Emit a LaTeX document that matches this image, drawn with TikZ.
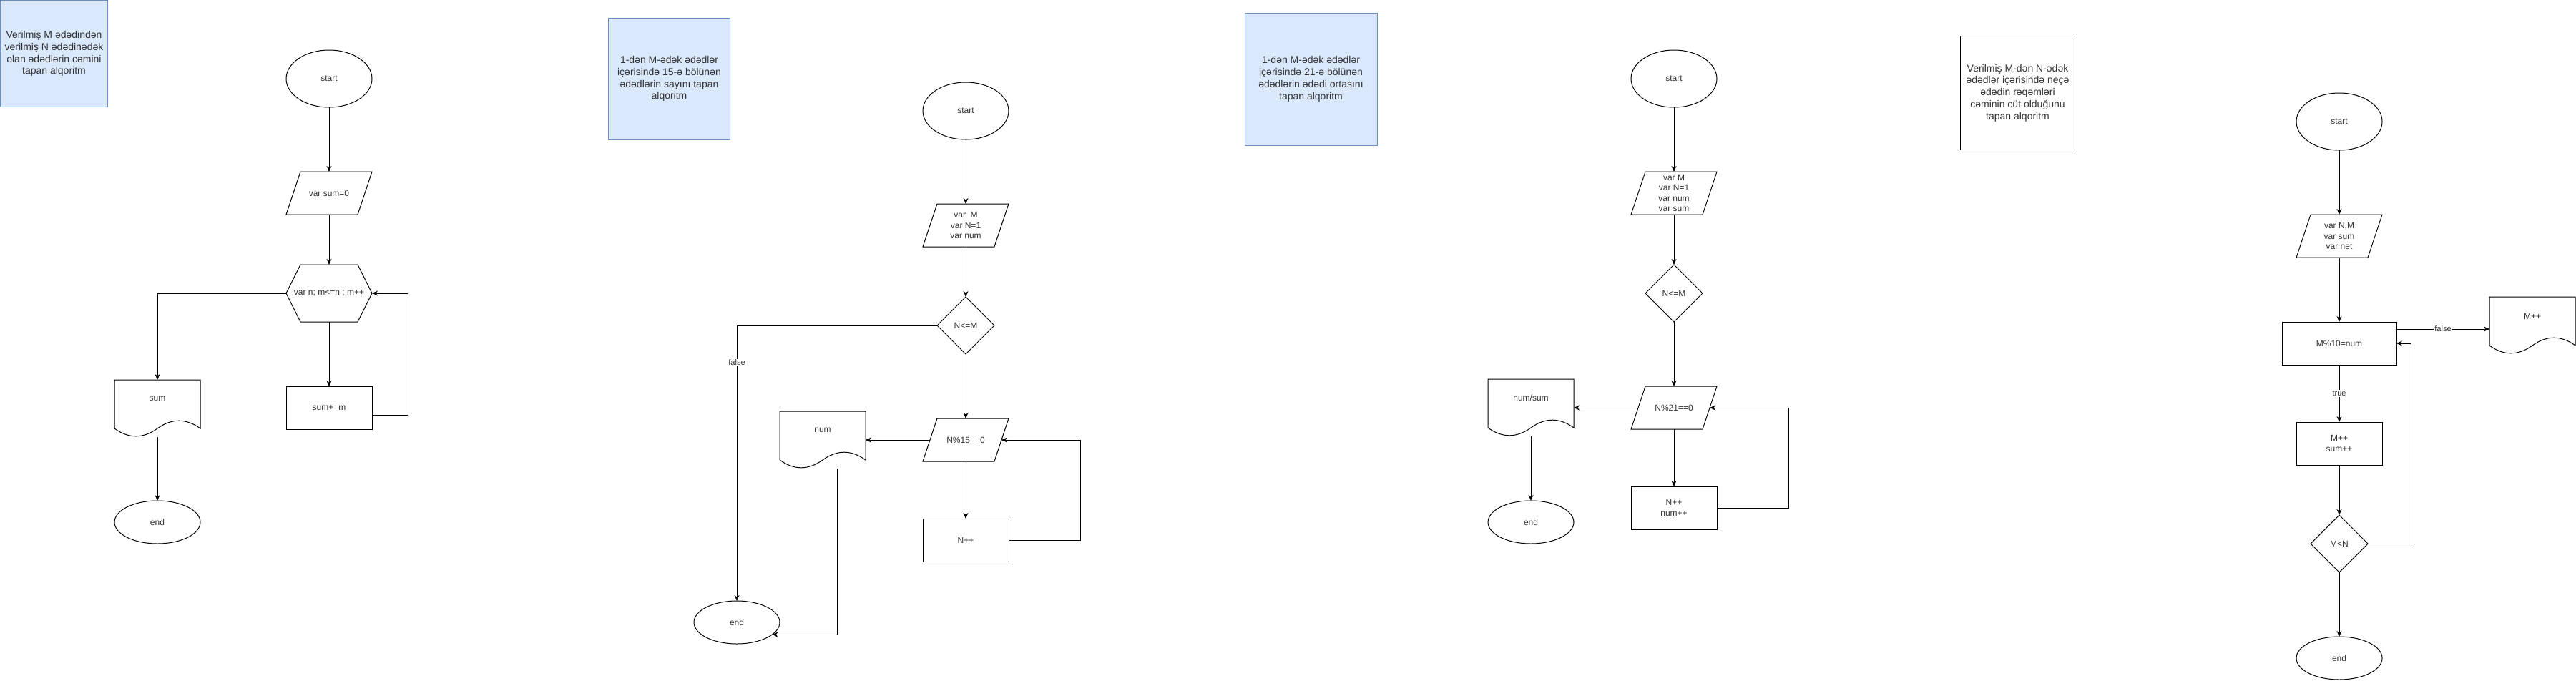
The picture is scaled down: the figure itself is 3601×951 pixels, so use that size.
\documentclass[tikz,border=0pt]{standalone}
\usepackage{fontspec}
\setmainfont{Liberation Sans}
\usetikzlibrary{shapes.geometric,arrows.meta,calc}
\definecolor{txt}{HTML}{333333}
\definecolor{descf}{HTML}{DAE8FC}
\definecolor{descb}{HTML}{6C8EBF}
\tikzset{
  base/.style={font=\fontsize{12}{14.4}\selectfont, text=txt, align=center, inner sep=0pt, outer sep=0pt},
  shapeline/.style={draw=black, line width=1pt, line join=miter},
  term/.style={base, ellipse, shapeline, minimum width=120pt, minimum height=80pt},
  endterm/.style={term, minimum height=60pt},
  box/.style={base, rectangle, shapeline, minimum width=120pt, minimum height=60pt},
  para/.style={base, rectangle, minimum width=120pt, minimum height=60pt},
  hexn/.style={base, rectangle, minimum width=120pt, minimum height=80pt},
  docn/.style={base, rectangle, minimum width=120pt, minimum height=80pt},
  dec/.style={base, diamond, shapeline, minimum width=80pt, minimum height=80pt, aspect=1},
  desc/.style={base, rectangle, font=\fontsize{14}{16.8}\selectfont, line width=1pt},
  conn/.style={line width=1pt, -{Stealth[length=8pt,width=7pt,inset=2.5pt]}},
  lbl/.style={font=\fontsize{11}{13}\selectfont, text=txt, fill=white, inner sep=1pt}
}
\newcommand\paraoutline[1]{\draw[shapeline] ([xshift=20pt]#1.north west) -- (#1.north east) -- ([xshift=-20pt]#1.south east) -- (#1.south west) -- cycle;}
\newcommand\hexoutline[1]{\draw[shapeline] ([xshift=20pt]#1.north west) -- ([xshift=-20pt]#1.north east) -- (#1.east) -- ([xshift=-20pt]#1.south east) -- ([xshift=20pt]#1.south west) -- (#1.west) -- cycle;}
\newcommand\docoutline[1]{\draw[shapeline] (#1.north west) -- (#1.north east) -- ($(#1.north west)+(120,68)$) .. controls ($(#1.north west)+(100,53.6)$) and ($(#1.north west)+(80,53.6)$) .. ($(#1.north west)+(60,68)$) .. controls ($(#1.north west)+(40,82.4)$) and ($(#1.north west)+(20,82.4)$) .. ($(#1.north west)+(0,68)$) -- cycle;}
\begin{document}
\begin{tikzpicture}[x=1pt,y=-1pt]
\useasboundingbox[fill=white] (0,0) rectangle (3601,951);

% ---------- Diagram 1 ----------
\node[desc, draw=descb, fill=descf, minimum width=150pt, minimum height=149pt] (t1) at (75.5,75) {Verilmiş M ədədindən\\verilmiş N ədədinədək\\olan ədədlərin cəmini\\tapan alqoritm};
\node[term] (s1) at (460,110) {start};
\node[para] (v1) at (460,270) {var sum=0}; \paraoutline{v1}
\node[hexn] (h1) at (460,410) {var n; m<=n ; m++}; \hexoutline{h1}
\node[box] (b1) at (460,570) {sum+=m};
\node[docn] (d1) at (220,571) {}; \docoutline{d1}
\node[base] (d1t) at ($(d1.north)+(0,26)$) {sum};
\node[endterm] (e1) at (220,730) {end};
\draw[conn] (s1.south) -- (v1.north);
\draw[conn] (v1.south) -- (h1.north);
\draw[conn] (h1.south) -- (b1.north);
\draw[conn] (h1.west) -| (d1.north);
\draw[conn] (d1.south) -- (e1.north);
\draw[conn] ([yshift=-10pt]b1.east) -- ++(50,0) |- (h1.east);

% ---------- Diagram 2 ----------
\node[desc, draw=descb, fill=descf, minimum width=170pt, minimum height=170pt] (t2) at (935.5,110) {1-dən M-ədək ədədlər\\içərisində 15-ə bölünən\\ədədlərin sayını tapan\\alqoritm};
\node[term] (s2) at (1350,155) {start};
\node[para] (v2) at (1350,315) {var\ \ M\\var N=1\\var num}; \paraoutline{v2}
\node[dec] (c2) at (1350,455) {N<=M};
\node[para] (p2) at (1350,615) {N\%15==0}; \paraoutline{p2}
\node[docn] (d2) at (1150,615) {}; \docoutline{d2}
\node[base] (d2t) at ($(d2.north)+(0,26)$) {num};
\node[box] (b2) at (1350,755) {N++};
\node[endterm] (e2) at (1030,870) {end};
\draw[conn] (s2.south) -- (v2.north);
\draw[conn] (v2.south) -- (c2.north);
\draw[conn] (c2.south) -- (p2.north);
\draw[conn] (c2.west) -| node[lbl, pos=0.567] {false} (e2.north);
\draw[conn] ([xshift=10pt]p2.west) -- (d2.east);
\draw[conn] (p2.south) -- (b2.north);
\draw[conn] (b2.east) -- ++(100,0) |- ([xshift=-10pt]p2.east);
\draw[conn] ([xshift=20pt]d2.south) |- (e2.-19);

% ---------- Diagram 3 ----------
\node[desc, draw=descb, fill=descf, minimum width=185pt, minimum height=185pt] (t3) at (1832.5,110.5) {1-dən M-ədək ədədlər\\içərisində 21-ə bölünən\\ədədlərin ədədi ortasını\\tapan alqoritm};
\node[term] (s3) at (2340,110) {start};
\node[para] (v3) at (2340,270) {var M\\var N=1\\var num\\var sum}; \paraoutline{v3}
\node[dec] (c3) at (2340,410) {N<=M};
\node[para] (p3) at (2340,570) {N\%21==0}; \paraoutline{p3}
\node[docn] (d3) at (2140,570) {}; \docoutline{d3}
\node[base] (d3t) at ($(d3.north)+(0,26)$) {num/sum};
\node[box] (b3) at (2340,710) {N++\\num++};
\node[endterm] (e3) at (2140,730) {end};
\draw[conn] (s3.south) -- (v3.north);
\draw[conn] (v3.south) -- (c3.north);
\draw[conn] (c3.south) -- (p3.north);
\draw[conn] ([xshift=10pt]p3.west) -- (d3.east);
\draw[conn] (d3.south) -- (e3.north);
\draw[conn] (p3.south) -- (b3.north);
\draw[conn] (b3.east) -- ++(100,0) |- ([xshift=-10pt]p3.east);

% ---------- Diagram 4 ----------
\node[desc, draw=black, fill=white, minimum width=160pt, minimum height=159pt] (t4) at (2820.5,130) {Verilmiş M-dən N-ədək\\ədədlər içərisində neçə\\ədədin rəqəmləri\\cəminin cüt olduğunu\\tapan alqoritm};
\node[term] (s4) at (3270,170) {start};
\node[para] (v4) at (3270,330) {var N,M\\var sum\\var net}; \paraoutline{v4}
\node[box, minimum width=160pt] (r4) at (3270,480) {M\%10=num};
\node[docn] (d4) at (3540,455) {}; \docoutline{d4}
\node[base] (d4t) at ($(d4.north)+(0,27)$) {M++};
\node[box] (b4) at (3270,620) {M++\\sum++};
\node[dec] (c4) at (3270,760) {M<N};
\node[endterm] (e4) at (3270,920) {end};
\draw[conn] (s4.south) -- (v4.north);
\draw[conn] (v4.south) -- (r4.north);
\draw[conn] ([yshift=20pt]r4.east) -- node[lbl] {false} ([yshift=20pt]r4.east -| d4.west);
\draw[conn] (r4.south) -- node[lbl] {true} (b4.north);
\draw[conn] (b4.south) -- (c4.north);
\draw[conn] (c4.south) -- (e4.north);
\draw[conn] (c4.east) -- ++(60,0) |- (r4.east);
\end{tikzpicture}
\end{document}
